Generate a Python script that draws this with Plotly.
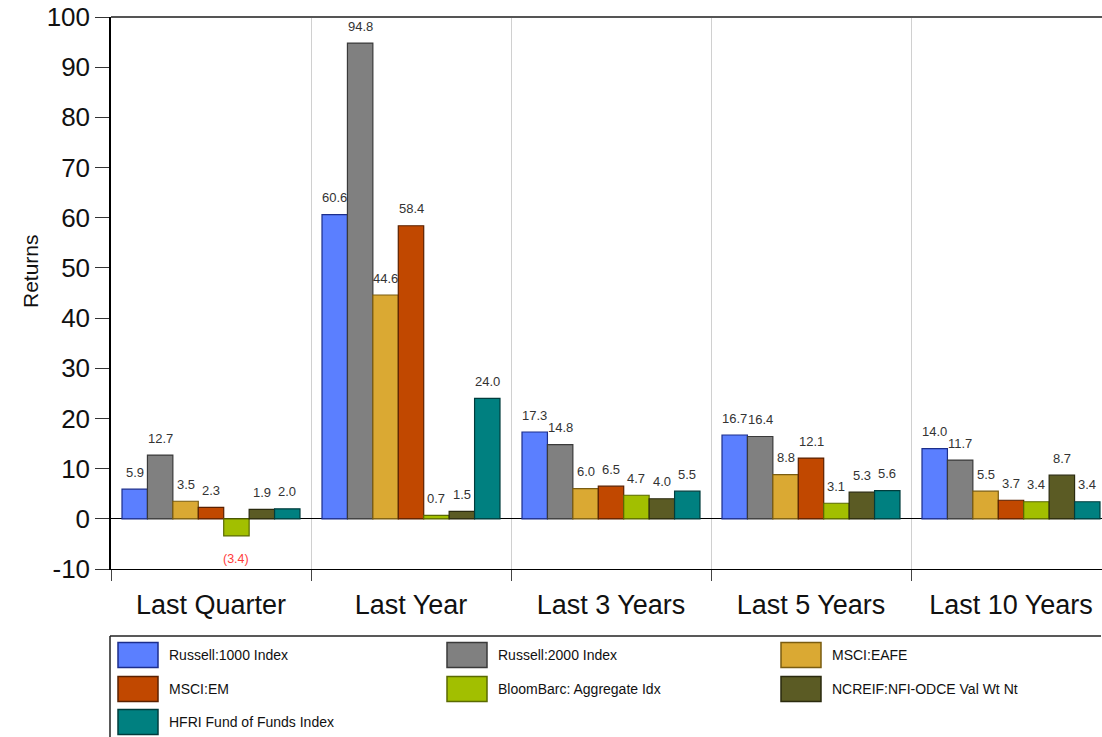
import plotly.graph_objects as go

categories = ["Last Quarter", "Last Year", "Last 3 Years", "Last 5 Years", "Last 10 Years"]
series_names = [
    "Russell:1000 Index",
    "Russell:2000 Index",
    "MSCI:EAFE",
    "MSCI:EM",
    "BloomBarc: Aggregate Idx",
    "NCREIF:NFI-ODCE Val Wt Nt",
    "HFRI Fund of Funds Index",
]
russell_1000 = [5.9, 60.6, 17.3, 16.7, 14.0]
russell_2000 = [12.7, 94.8, 14.8, 16.4, 11.7]
msci_eafe = [3.5, 44.6, 6.0, 8.8, 5.5]
msci_em = [2.3, 58.4, 6.5, 12.1, 3.7]
bloombarc_agg = [-3.4, 0.7, 4.7, 3.1, 3.4]
ncreif_odce = [1.9, 1.5, 4.0, 5.3, 8.7]
hfri_fof = [2.0, 24.0, 5.5, 5.6, 3.4]
y_ticks = [-10, 0, 10, 20, 30, 40, 50, 60, 70, 80, 90, 100]

series_values = [russell_1000, russell_2000, msci_eafe, msci_em, bloombarc_agg, ncreif_odce, hfri_fof]
fill_colors = ["#5B7FFF", "#808080", "#DAA933", "#C14800", "#A2BF00", "#5B5B24", "#008080"]
line_colors = ["#1C2E8C", "#3A3A3A", "#7A5C10", "#5A2000", "#5A6A00", "#2A2A0E", "#003C3C"]

FONT = "Liberation Sans, Arial, sans-serif"
W, H = 1102, 737
L, R, T, B = 111, 1102, 17, 569
PW, PH = R - L, B - T


def px(x):
    return (x - L) / PW


def py(y):
    return (B - y) / PH


BARGAP = 0.11
cat_px = PW / 4.955
bar_px = cat_px * (1 - BARGAP) / len(series_names)

fig = go.Figure()
for name, vals, fc, lc in zip(series_names, series_values, fill_colors, line_colors):
    fig.add_trace(go.Bar(
        x=categories, y=vals, name=name,
        marker=dict(color=fc, line=dict(color=lc, width=1.2)),
        showlegend=False,
    ))

annotations = []
n = len(series_names)
for j, vals in enumerate(series_values):
    for i, v in enumerate(vals):
        xs = (j - (n - 1) / 2) * bar_px
        if v >= 0:
            annotations.append(dict(
                x=categories[i], y=v, xref="x", yref="y", text=f"{v:.1f}",
                showarrow=False, xshift=xs, yshift=17, yanchor="middle",
                font=dict(family=FONT, size=13, color="#333333"),
            ))
        else:
            annotations.append(dict(
                x=categories[i], y=v, xref="x", yref="y", text=f"({abs(v):.1f})",
                showarrow=False, xshift=xs, yshift=-23, yanchor="middle",
                font=dict(family=FONT, size=12.5, color="#FF3B3B"),
            ))

# y-axis title
annotations.append(dict(
    x=px(30), y=py(271), xref="paper", yref="paper", text="Returns",
    showarrow=False, textangle=-90, xanchor="center", yanchor="middle",
    font=dict(family=FONT, size=21, color="#111111"),
))

shapes = []
# top border line
shapes.append(dict(type="line", xref="paper", yref="paper",
                   x0=px(111), x1=px(1102), y0=py(17), y1=py(17),
                   line=dict(color="#555555", width=2)))

# custom legend
shapes.append(dict(type="line", xref="paper", yref="paper",
                   x0=px(110), x1=px(1101), y0=py(636), y1=py(636),
                   line=dict(color="#222222", width=1.5)))
shapes.append(dict(type="line", xref="paper", yref="paper",
                   x0=px(110), x1=px(110), y0=py(636), y1=py(740),
                   line=dict(color="#222222", width=1.5)))
col_x = [118, 447, 781]
row_y = [655, 689, 722]
for k, (name, fc, lc) in enumerate(zip(series_names, fill_colors, line_colors)):
    r, c = divmod(k, 3)
    x0 = col_x[c]
    yc = row_y[r]
    shapes.append(dict(type="rect", xref="paper", yref="paper",
                       x0=px(x0), x1=px(x0 + 40), y0=py(yc + 12.5), y1=py(yc - 12.5),
                       fillcolor=fc, line=dict(color=lc, width=1.5)))
    annotations.append(dict(
        x=px(x0 + 49), y=py(yc), xref="paper", yref="paper", text=name,
        showarrow=False, xanchor="left", yanchor="middle",
        font=dict(family=FONT, size=14, color="#111111"),
    ))

fig.update_layout(
    width=W, height=H,
    margin=dict(l=L, r=W - R, t=T, b=H - B),
    paper_bgcolor="white", plot_bgcolor="white",
    barmode="group", bargap=BARGAP, bargroupgap=0,
    font=dict(family=FONT, color="#111111"),
    annotations=annotations, shapes=shapes,
    showlegend=False,
)
fig.update_xaxes(
    type="category", range=[-0.5, 4.455], tickson="boundaries",
    ticks="outside", ticklen=11, tickcolor="#444444", tickwidth=1,
    showgrid=True, gridcolor="#D0D0D0", gridwidth=1,
    showline=True, linecolor="#000000", linewidth=1,
    ticklabelstandoff=12,
    tickfont=dict(family=FONT, size=27, color="#111111"),
)
fig.update_yaxes(
    range=[-10, 100], tickvals=y_ticks, ticktext=[str(t) for t in y_ticks],
    ticks="outside", ticklen=14, tickcolor="#333333", tickwidth=1,
    showgrid=False, zeroline=True, zerolinecolor="#000000", zerolinewidth=1,
    showline=True, linecolor="#000000", linewidth=1.5,
    tickfont=dict(family=FONT, size=26, color="#111111"),
)

fig.write_html("out.html")
